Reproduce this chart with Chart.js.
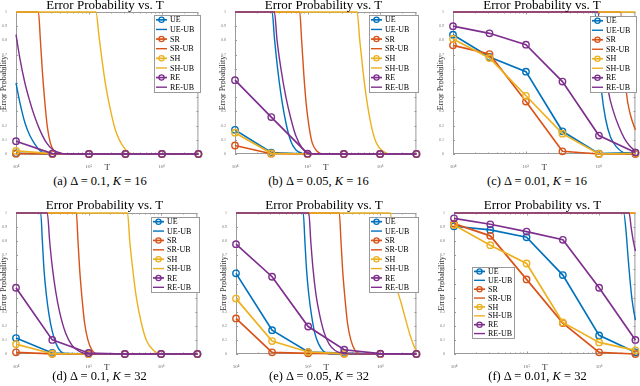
<!DOCTYPE html>
<html>
<head>
<meta charset="utf-8">
<script src="https://cdn.jsdelivr.net/npm/chart.js@4.4.1/dist/chart.umd.min.js"></script>
<style>
  body { margin: 0; width: 640px; height: 386px; background: #fff; position: relative; overflow: hidden;
         font-family: "Liberation Serif", "DejaVu Serif", serif; }
  canvas { position: absolute; }
  .ttl { position: absolute; font-size: 13px; color: #000; white-space: nowrap; transform: translateX(-50%); line-height: 1; }
  .cap { position: absolute; font-size: 12.5px; color: #000; white-space: nowrap; transform: translateX(-50%); line-height: 1; }
</style>
</head>
<body>
<script>
// T values where the simulated points sit
const T_VALUES = [1e4, 3.162e4, 1e5, 3.162e5, 1e6, 3.162e6];
const SERIES = ['UE', 'UE-UB', 'SR', 'SR-UB', 'SH', 'SH-UB', 'RE', 'RE-UB'];
const COLORS = ['#0072BD', '#D95319', '#EDB120', '#7E2F8E'];
const Y_TICKS = [0, 0.1, 0.2, 0.3, 0.4, 0.5, 0.6, 0.7, 0.8, 0.9, 1];
const X_TICKS = [1e4, 1e5, 1e6];
const X_TICK_LABELS = ['10⁴', '10⁵', '10⁶'];

// (a) delta = 0.1, K = 16
const a_UE = [0.005, 0, 0, 0, 0, 0];
const a_SR = [0.002, 0, 0, 0, 0, 0];
const a_SH = [0.022, 0.002, 0, 0, 0, 0];
const a_RE = [0.09, 0.003, 0, 0, 0, 0];
const a_UE_UB = [[1e4,0.5],[1.133e4,0.36],[1.325e4,0.22],[1.549e4,0.13],[1.81e4,0.07],[2.12e4,0.025],[2.48e4,0.007],[3.0e4,0],[3.162e6,0]];
const a_SR_UB = [[1e4,1],[2.03e4,1],[2.16e4,0.8],[2.30e4,0.58],[2.48e4,0.37],[2.69e4,0.19],[2.95e4,0.08],[3.28e4,0.025],[3.76e4,0.005],[4.39e4,0],[3.162e6,0]];
const a_SH_UB = [[1e4,1],[1.244e5,1],[1.38e5,0.82],[1.53e5,0.64],[1.70e5,0.48],[1.99e5,0.3],[2.33e5,0.16],[2.87e5,0.06],[3.53e5,0.01],[4.35e5,0],[3.162e6,0]];
const a_RE_UB = [[1e4,0.84],[1.133e4,0.67],[1.325e4,0.5],[1.549e4,0.37],[1.81e4,0.26],[2.12e4,0.17],[2.61e4,0.08],[3.21e4,0.03],[4.39e4,0.003],[5.5e4,0],[3.162e6,0]];

// (b) delta = 0.05, K = 16
const b_UE = [0.17, 0.01, 0, 0, 0, 0];
const b_SR = [0.06, 0.002, 0, 0, 0, 0];
const b_SH = [0.15, 0.005, 0, 0, 0, 0];
const b_RE = [0.52, 0.26, 0.002, 0, 0, 0];
const b_UE_UB = [[1e4,1],[3.25e4,1],[3.49e4,0.82],[3.87e4,0.6],[4.30e4,0.42],[5.03e4,0.22],[5.88e4,0.09],[6.87e4,0.03],[8.47e4,0.004],[1.043e5,0],[3.162e6,0]];
const b_SR_UB = [[1e4,1],[7.79e4,1],[8.29e4,0.8],[8.91e4,0.55],[9.59e4,0.35],[1.043e5,0.2],[1.157e5,0.08],[1.353e5,0.02],[1.667e5,0],[3.162e6,0]];
const b_SH_UB = [[1e4,1],[4.82e5,1],[5.24e5,0.8],[5.82e5,0.58],[6.45e5,0.4],[7.55e5,0.2],[8.83e5,0.08],[1.087e6,0.02],[1.41e6,0],[3.162e6,0]];
const b_RE_UB = [[1e4,1],[3.49e4,1],[3.80e4,0.8],[4.30e4,0.6],[5.03e4,0.4],[5.88e4,0.25],[6.87e4,0.13],[8.47e4,0.04],[1.043e5,0.005],[1.3e5,0],[3.162e6,0]];

// (c) delta = 0.01, K = 16
const c_UE = [0.84, 0.683, 0.58, 0.16, 0.002, 0.01];
const c_SR = [0.765, 0.704, 0.369, 0.019, 0, 0];
const c_SH = [0.81, 0.676, 0.41, 0.143, 0, 0.005];
const c_RE = [0.90, 0.85, 0.77, 0.51, 0.13, 0.01];
const c_UE_UB = [[1e4,1],[8.73e5,1],[9.89e5,0.7],[1.087e6,0.44],[1.23e6,0.25],[1.44e6,0.12],[1.74e6,0.05],[2.16e6,0.01],[2.53e6,0],[3.162e6,0]];
const c_SR_UB = [[1e4,1],[1.97e6,1],[2.16e6,0.75],[2.37e6,0.44],[2.69e6,0.28],[3.162e6,0.17]];
const c_SH_UB = [[1e4,1],[3.162e6,1]];
const c_RE_UB = [[1e4,1],[9.59e5,1],[1.087e6,0.8],[1.23e6,0.6],[1.35e6,0.44],[1.58e6,0.3],[1.85e6,0.2],[2.23e6,0.11],[2.61e6,0.06],[3.162e6,0.02]];

// (d) delta = 0.1, K = 32
const d_UE = [0.113, 0.007, 0, 0, 0, 0];
const d_SR = [0.012, 0.001, 0, 0, 0, 0];
const d_SH = [0.07, 0.002, 0, 0, 0, 0];
const d_RE = [0.47, 0.10, 0.007, 0, 0, 0];
const d_UE_UB = [[1e4,1],[2.19e4,1],[2.31e4,0.8],[2.43e4,0.6],[2.62e4,0.42],[2.85e4,0.28],[3.16e4,0.16],[3.59e4,0.07],[4.11e4,0.02],[5.06e4,0],[3.162e6,0]];
const d_SR_UB = [[1e4,1],[6.79e4,1],[7.15e4,0.8],[7.54e4,0.6],[8.11e4,0.4],[8.82e4,0.22],[9.79e4,0.1],[1.11e5,0.03],[1.37e5,0],[3.162e6,0]];
const d_SH_UB = [[1e4,1],[3.44e5,1],[3.70e5,0.8],[4.11e5,0.58],[4.56e5,0.4],[5.34e5,0.22],[6.24e5,0.1],[7.69e5,0.03],[1.0e6,0],[3.162e6,0]];
const d_RE_UB = [[1e4,1],[2.70e4,1],[2.91e4,0.8],[3.16e4,0.62],[3.51e4,0.45],[3.98e4,0.3],[4.81e4,0.15],[5.93e4,0.06],[7.70e4,0.015],[1.0e5,0],[3.162e6,0]];

// (e) delta = 0.05, K = 32
const e_UE = [0.572, 0.169, 0.014, 0.007, 0, 0];
const e_SR = [0.252, 0.012, 0.005, 0.002, 0, 0];
const e_SH = [0.393, 0.092, 0.014, 0.002, 0, 0];
const e_RE = [0.779, 0.548, 0.195, 0.03, 0.002, 0];
const e_UE_UB = [[1e4,1],[8.55e4,1],[9.01e4,0.8],[9.49e4,0.6],[1.021e5,0.42],[1.11e5,0.28],[1.233e5,0.15],[1.40e5,0.07],[1.635e5,0.02],[2.017e5,0],[3.162e6,0]];
const e_SR_UB = [[1e4,1],[2.70e5,1],[2.85e5,0.8],[3.0e5,0.6],[3.23e5,0.4],[3.51e5,0.22],[3.90e5,0.1],[4.42e5,0.03],[5.45e5,0],[3.162e6,0]];
const e_SH_UB = [[1e4,1],[1.38e6,1],[1.52e6,0.75],[1.72e6,0.47],[1.95e6,0.36],[2.15e6,0.28],[2.43e6,0.18],[2.76e6,0.09],[3.03e6,0.04],[3.162e6,0.03]];
const e_RE_UB = [[1e4,1],[1.021e5,1],[1.087e5,0.8],[1.17e5,0.6],[1.285e5,0.42],[1.44e5,0.28],[1.67e5,0.15],[1.954e5,0.07],[2.36e5,0.025],[3.23e5,0.003],[4.42e5,0],[3.162e6,0]];

// (f) delta = 0.01, K = 32
const f_UE = [0.906, 0.88, 0.828, 0.56, 0.132, 0.012];
const f_SR = [0.925, 0.838, 0.529, 0.219, 0.012, 0];
const f_SH = [0.915, 0.772, 0.642, 0.224, 0.082, 0.026];
const f_RE = [0.962, 0.92, 0.868, 0.81, 0.47, 0.10];
const f_UE_UB = [[1e4,1],[2.18e6,1],[2.36e6,0.86],[2.51e6,0.68],[2.67e6,0.52],[2.85e6,0.38],[3.162e6,0.24]];
const f_SR_UB = [[1e4,1],[3.162e6,1]];
const f_SH_UB = [[1e4,1],[3.162e6,1]];
const f_RE_UB = [[1e4,1],[2.59e6,1],[2.76e6,0.9],[2.94e6,0.81],[3.162e6,0.73]];

// layout: plot box in page pixels [L, T, R, B], legend rect [x, y, w, h], title top, caption top
const PANELS = [
  { box: [16, 12, 200, 154],  leg: [154, 15, 46, 77],  tt: -2, ct: 175, cap: '(a) Δ = 0.1, <i>K</i> = 16',
    sets: [a_UE, a_UE_UB, a_SR, a_SR_UB, a_SH, a_SH_UB, a_RE, a_RE_UB] },
  { box: [235, 12, 418, 154], leg: [369, 15, 49, 77],  tt: -2, ct: 175, cap: '(b) Δ = 0.05, <i>K</i> = 16',
    sets: [b_UE, b_UE_UB, b_SR, b_SR_UB, b_SH, b_SH_UB, b_RE, b_RE_UB] },
  { box: [453, 12, 637, 154], leg: [590, 16, 46, 76],  tt: -2, ct: 175, cap: '(c) Δ = 0.01, <i>K</i> = 16',
    sets: [c_UE, c_UE_UB, c_SR, c_SR_UB, c_SH, c_SH_UB, c_RE, c_RE_UB] },
  { box: [16, 213, 199, 354], leg: [151, 217, 48, 75], tt: 198, ct: 370, cap: '(d) Δ = 0.1, <i>K</i> = 32',
    sets: [d_UE, d_UE_UB, d_SR, d_SR_UB, d_SH, d_SH_UB, d_RE, d_RE_UB] },
  { box: [236, 213, 418, 354], leg: [369, 217, 49, 75], tt: 198, ct: 370, cap: '(e) Δ = 0.05, <i>K</i> = 32',
    sets: [e_UE, e_UE_UB, e_SR, e_SR_UB, e_SH, e_SH_UB, e_RE, e_RE_UB] },
  { box: [454, 213, 637, 354], leg: [472, 267, 42, 71], tt: 198, ct: 370, cap: '(f) Δ = 0.01, <i>K</i> = 32',
    sets: [f_UE, f_UE_UB, f_SR, f_SR_UB, f_SH, f_SH_UB, f_RE, f_RE_UB] }
];

// matlab style box, inward ticks and legend
const matlabFrame = {
  id: 'matlabFrame',
  beforeDatasetsDraw(chart) {
    const { ctx, chartArea: a, scales: { x, y } } = chart;
    ctx.save();
    ctx.strokeStyle = '#9a9a9a';
    ctx.lineWidth = 1;
    ctx.strokeRect(a.left + 0.5, a.top + 0.5, a.right - a.left - 1, a.bottom - a.top - 1);
    ctx.beginPath();
    Y_TICKS.forEach(v => {
      const py = Math.round(y.getPixelForValue(v)) + 0.5;
      ctx.moveTo(a.left, py); ctx.lineTo(a.left + 2, py);
      ctx.moveTo(a.right, py); ctx.lineTo(a.right - 2, py);
    });
    for (let e = 4; e <= 6; e++) {
      for (let m = 1; m <= 9; m++) {
        const v = m * Math.pow(10, e);
        if (v > x.max) break;
        const px = Math.round(x.getPixelForValue(v)) + 0.5;
        const len = m === 1 ? 2.5 : 1.5;
        ctx.moveTo(px, a.bottom); ctx.lineTo(px, a.bottom - len);
        ctx.moveTo(px, a.top); ctx.lineTo(px, a.top + len);
      }
    }
    ctx.stroke();
    ctx.restore();
  },
  afterDatasetsDraw(chart, args, opts) {
    const { ctx } = chart;
    const [lx, ly, lw, lh] = opts.rect;
    ctx.save();
    ctx.fillStyle = '#fff';
    ctx.fillRect(lx, ly, lw, lh);
    ctx.strokeStyle = '#9a9a9a';
    ctx.lineWidth = 1;
    ctx.strokeRect(lx + 0.5, ly + 0.5, lw, lh);
    chart.data.datasets.forEach((ds, i) => {
      const cy = ly + lh * (i + 0.5) / 8;
      ctx.strokeStyle = ds.borderColor;
      ctx.lineWidth = ds.borderWidth;
      ctx.beginPath(); ctx.moveTo(lx + 2, cy); ctx.lineTo(lx + 13, cy); ctx.stroke();
      if (ds.pointRadius) {
        ctx.lineWidth = 1.3;
        ctx.beginPath(); ctx.arc(lx + 7.5, cy, 2.6, 0, Math.PI * 2); ctx.stroke();
      }
      ctx.fillStyle = '#000';
      ctx.font = '8px "Liberation Serif"';
      ctx.textBaseline = 'middle';
      ctx.fillText(ds.label, lx + 16, cy + 0.5);
    });
    ctx.restore();
  }
};

PANELS.forEach(p => {
  const [L, T, R, B] = p.box;
  const cv = document.createElement('canvas');
  const w = R - L + 19, h = B - T + 32;
  cv.width = w; cv.height = h;
  cv.style.left = (L - 16) + 'px';
  cv.style.top = (T - 12) + 'px';
  cv.style.width = w + 'px'; cv.style.height = h + 'px';
  document.body.appendChild(cv);

  const ttl = document.createElement('div');
  ttl.className = 'ttl';
  ttl.textContent = 'Error Probability vs. T';
  ttl.style.left = ((L + R) / 2 - 3) + 'px';
  ttl.style.top = p.tt + 'px';
  document.body.appendChild(ttl);

  const cap = document.createElement('div');
  cap.className = 'cap';
  cap.innerHTML = p.cap;
  cap.style.left = ((L - 16 + R) / 2) + 'px';
  cap.style.top = p.ct + 'px';
  document.body.appendChild(cap);

  const datasets = p.sets.map((vals, i) => {
    const color = COLORS[Math.floor(i / 2)];
    const isUB = i % 2 === 1;
    return {
      label: SERIES[i],
      data: isUB ? vals.map(([t, v]) => ({ x: t, y: v })) : vals.map((v, k) => ({ x: T_VALUES[k], y: v })),
      borderColor: color,
      backgroundColor: 'transparent',
      borderWidth: isUB ? 1.4 : 1.7,
      pointRadius: isUB ? 0 : 3.2,
      pointBorderWidth: 1.4,
      pointHoverRadius: 0,
      cubicInterpolationMode: isUB ? 'monotone' : 'default',
      tension: 0,
      clip: false,
      order: 20 - i
    };
  });

  new Chart(cv, {
    type: 'line',
    data: { datasets },
    plugins: [matlabFrame],
    options: {
      responsive: false,
      animation: false,
      events: [],
      layout: { padding: { left: 0, right: 3, top: 12, bottom: 0 } },
      plugins: {
        legend: { display: false },
        tooltip: { enabled: false },
        matlabFrame: { rect: [p.leg[0] - (L - 16), p.leg[1] - (T - 12), p.leg[2], p.leg[3]] }
      },
      scales: {
        x: {
          type: 'logarithmic',
          min: 1e4,
          max: 3.162e6,
          grid: { display: false },
          border: { display: false },
          afterBuildTicks: s => { s.ticks = X_TICKS.map(v => ({ value: v })); },
          afterFit: s => { s.height = 20; },
          ticks: {
            autoSkip: false, maxRotation: 0, padding: 2,
            color: '#666', font: { size: 5, family: 'Liberation Serif' },
            callback: v => X_TICK_LABELS[X_TICKS.indexOf(v)]
          },
          title: { display: true, text: 'T', color: '#333', padding: { top: 0, bottom: 1 },
                   font: { size: 9, family: 'Liberation Serif' } }
        },
        y: {
          min: 0,
          max: 1,
          grid: { display: false },
          border: { display: false },
          afterBuildTicks: s => { s.ticks = Y_TICKS.map(v => ({ value: v })); },
          afterFit: s => { s.width = 16; },
          ticks: {
            autoSkip: false, padding: 1,
            color: '#777', font: { size: 4, family: 'Liberation Serif' },
            callback: v => String(Math.round(v * 10) / 10)
          },
          title: { display: true, text: 'Error Probability', color: '#333', padding: { top: -0.5, bottom: 0 },
                   font: { size: 8, family: 'Liberation Serif' } }
        }
      }
    }
  });
});
</script>
</body>
</html>
